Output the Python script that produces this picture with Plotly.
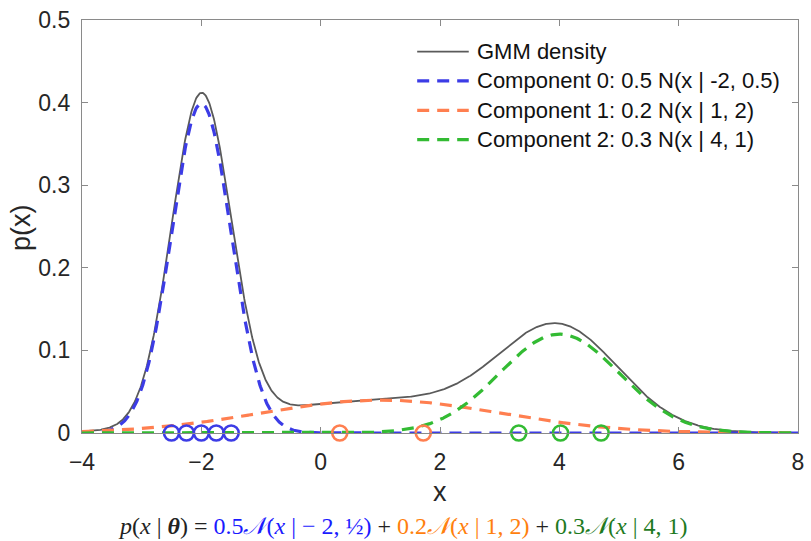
import numpy as np
import plotly.graph_objects as go

# Mixture parameters: weight, mean, standard deviation
weights = [0.5, 0.2, 0.3]
means = [-2.0, 1.0, 4.0]
sigmas = [0.5, 2.0, 1.0]
comp_names = [
    "Component 0: 0.5 N(x | -2, 0.5)",
    "Component 1: 0.2 N(x | 1, 2)",
    "Component 2: 0.3 N(x | 4, 1)",
]
comp_colors = ["#3c3ce6", "#ff7f50", "#33bb33"]
gmm_name = "GMM density"
gmm_color = "#5a5a5a"

# Sample points drawn from each component
samples = [
    [-2.5, -2.25, -2.0, -1.75, -1.5],
    [0.32, 1.72],
    [3.32, 4.02, 4.7],
]

x_grid = np.linspace(-4, 8, 1201)


def normal_pdf(x, mu, sd):
    return np.exp(-0.5 * ((x - mu) / sd) ** 2) / (sd * np.sqrt(2 * np.pi))


comp_dens = [w * normal_pdf(x_grid, m, s) for w, m, s in zip(weights, means, sigmas)]
gmm = np.sum(comp_dens, axis=0)

DASH = "12px,8px"
fig = go.Figure()
fig.add_trace(go.Scatter(
    x=x_grid, y=gmm, mode="lines", name=gmm_name, showlegend=False,
    line=dict(color=gmm_color, width=1.8),
))
for dens, name, col in zip(comp_dens, comp_names, comp_colors):
    fig.add_trace(go.Scatter(
        x=x_grid, y=dens, mode="lines", name=name, showlegend=False,
        line=dict(color=col, width=3.2, dash=DASH),
    ))
for pts, col in zip(samples, comp_colors):
    fig.add_trace(go.Scatter(
        x=pts, y=[0] * len(pts), mode="markers", showlegend=False,
        marker=dict(symbol="circle-open", size=15, color=col, line=dict(width=2.6, color=col)),
        cliponaxis=False,
    ))

# Plot-area geometry in pixels (used to place the key and labels)
W, H = 811, 541
ML, MR, MT, MB = 82, 7, 15, 108
PW, PH = W - ML - MR, H - MT - MB


def px_x(px):
    return (px - ML) / PW


def px_y(py):
    return (H - MB - py) / PH


# Key in the upper right: sample line + label for each curve
key_labels = [gmm_name] + comp_names
key_colors = [gmm_color] + comp_colors
key_widths = [1.8, 3.2, 3.2, 3.2]
key_dash = ["solid", DASH, DASH, DASH]
for i, (lab, col, lw, dsh) in enumerate(zip(key_labels, key_colors, key_widths, key_dash)):
    ry = 47 + 29.7 * i
    fig.add_shape(type="line", xref="paper", yref="paper",
                  x0=px_x(420), x1=px_x(472), y0=px_y(ry), y1=px_y(ry),
                  line=dict(color=col, width=lw, dash=dsh))
    fig.add_annotation(text=lab, xref="paper", yref="paper", x=px_x(478), y=px_y(ry),
                       xanchor="left", yanchor="middle", showarrow=False,
                       font=dict(size=22, color="#111111"))

axis_common = dict(
    showline=True, linecolor="#8a8a8a", linewidth=1.2, mirror="ticks",
    ticks="inside", ticklen=6, tickcolor="#8a8a8a", showgrid=False, zeroline=False,
    tickfont=dict(size=23, color="#262626", family="Liberation Sans, Arial, sans-serif"),
)
fig.update_xaxes(range=[-4, 8], tickvals=[-4, -2, 0, 2, 4, 6, 8],
                 ticklabelstandoff=8, **axis_common)
fig.update_yaxes(range=[0, 0.5], tickvals=[0, 0.1, 0.2, 0.3, 0.4, 0.5],
                 ticktext=["0", "0.1", "0.2", "0.3", "0.4", "0.5"],
                 ticklabelstandoff=6, **axis_common)

# Axis titles
fig.add_annotation(text="x", xref="paper", yref="paper", x=px_x(443), y=px_y(493),
                   xanchor="center", yanchor="middle", showarrow=False,
                   font=dict(size=27, color="#262626"))
fig.add_annotation(text="p(x)", xref="paper", yref="paper", x=px_x(21), y=px_y(225),
                   xanchor="center", yanchor="middle", showarrow=False, textangle=-90,
                   font=dict(size=27, color="#262626"))

formula = (
    "<i>p</i>(<i>x</i> | <b><i>θ</i></b>) = "
    "<span style='color:#1a1aff'>0.5<i>𝒩</i>(<i>x</i> | − 2, ½)</span> + "
    "<span style='color:#ff7f0e'>0.2<i>𝒩</i>(<i>x</i> | 1, 2)</span> + "
    "<span style='color:#1e7a1e'>0.3<i>𝒩</i>(<i>x</i> | 4, 1)</span>"
)
fig.add_annotation(
    text=formula, xref="paper", yref="paper", x=px_x(405), y=px_y(527),
    xanchor="center", yanchor="middle", showarrow=False,
    font=dict(size=24, color="#222222", family="Liberation Serif, Times New Roman, serif"),
)

fig.update_layout(
    width=W, height=H,
    margin=dict(l=ML, r=MR, t=MT, b=MB),
    paper_bgcolor="white", plot_bgcolor="white",
    font=dict(family="Liberation Sans, Arial, sans-serif", color="#262626"),
    showlegend=False,
)

fig.write_html("out.html")
